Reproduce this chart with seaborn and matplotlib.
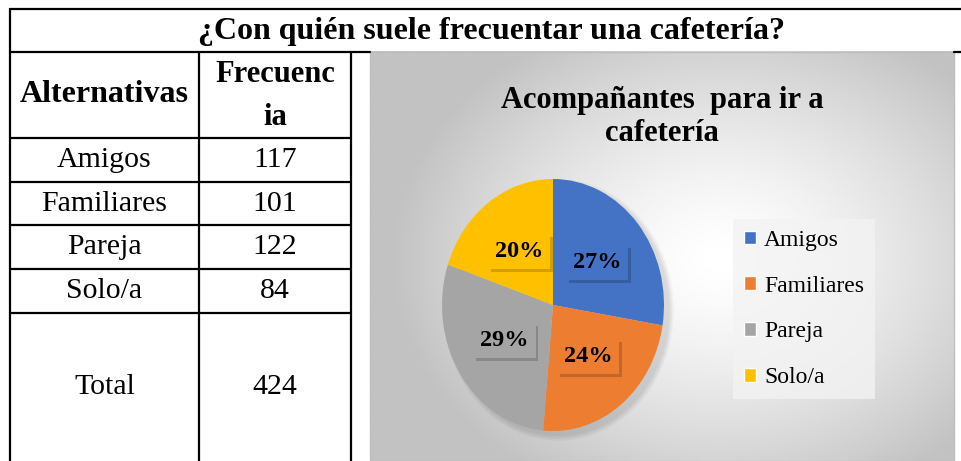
import numpy as np
import matplotlib.pyplot as plt
import matplotlib.patheffects as pe
from matplotlib.patches import Patch, Rectangle, Ellipse
import seaborn as sns

sns.set_style('white')
plt.rcParams['font.family'] = ['Liberation Serif', 'DejaVu Serif']
plt.rcParams['text.color'] = 'black'

# datos de la tabla
alternativas = ['Amigos', 'Familiares', 'Pareja', 'Solo/a']
frecuencia = [117, 101, 122, 84]
total = 424
pct_labels = ['27%', '24%', '29%', '20%']
titulo = '¿Con quién suele frecuentar una cafetería?'
titulo_grafico = ['Acompañantes  para ir a', 'cafetería']
colores = sns.color_palette(['#4472C4', '#ED7D31', '#A5A5A5', '#FFC000'])

W, H = 962, 461
fig = plt.figure(figsize=(W / 100, H / 100), dpi=100)
ax = fig.add_axes([0, 0, 1, 1])

# fondo del grafico (degradado radial)
cx0, cx1, cy0, cy1 = 370, 954, 52, 461
xx, yy = np.meshgrid(np.linspace(cx0, cx1, 300), np.linspace(cy0, cy1, 220))
d = np.hypot((xx - 720) / 330, (yy - 260) / 260)
shade = 1 - 0.24 * np.clip(d, 0, 1) ** 1.4
ax.imshow(shade, cmap='gray', vmin=0, vmax=1, extent=[cx0, cx1, cy1, cy0],
          interpolation='bilinear', zorder=0)
ax.add_patch(Rectangle((cx0, cy0), cx1 - cx0, cy1 - cy0, fill=False,
                       edgecolor='#bdbdbd', lw=1, zorder=1))
ax.set_aspect('auto')
ax.set_xlim(0, W)
ax.set_ylim(H, 0)
ax.axis('off')

# lineas de la tabla
lw = 1.6
ax.plot([10, W], [9, 9], color='black', lw=lw)
ax.plot([10, cx0], [52, 52], color='black', lw=lw)
ax.plot([cx1, W], [52, 52], color='black', lw=lw)
ax.plot([10, 10], [9, H], color='black', lw=lw)
ax.plot([199, 199], [52, H], color='black', lw=lw)
ax.plot([351, 351], [52, H], color='black', lw=lw)
row_lines = [138, 182, 225, 269, 313]
for y in row_lines:
    ax.plot([10, 351], [y, y], color='black', lw=lw)

ax.text(492, 31, titulo, ha='center', va='center', fontsize=23, fontweight='bold')
ax.text(104.5, 95, 'Alternativas', ha='center', va='center', fontsize=23, fontweight='bold')
ax.text(275, 75, 'Frecuenc', ha='center', va='center', fontsize=22, fontweight='bold')
ax.text(275, 117, 'ia', ha='center', va='center', fontsize=22, fontweight='bold')

for i, (alt, f) in enumerate(zip(alternativas, frecuencia)):
    yc = (row_lines[i] + row_lines[i + 1]) / 2
    ax.text(104.5, yc, alt, ha='center', va='center', fontsize=21.5)
    ax.text(275, yc, str(f), ha='center', va='center', fontsize=21.5)
ax.text(104.5, 387, 'Total', ha='center', va='center', fontsize=21.5)
ax.text(275, 387, str(total), ha='center', va='center', fontsize=21.5)

# titulo del grafico
ax.text(662, 100, titulo_grafico[0], ha='center', va='center', fontsize=22, fontweight='bold')
ax.text(662, 133, titulo_grafico[1], ha='center', va='center', fontsize=22, fontweight='bold')

# pastel
pcx, pcy, rx, ry = 553, 305, 111, 126
pax = fig.add_axes([(pcx - rx) / W, (H - pcy - ry) / H, 2 * rx / W, 2 * ry / H])
# sombra suave del pastel
for k in range(4):
    pax.add_patch(Ellipse((0.05, -0.04), 2 + 0.025 * k, 2 + 0.025 * k, facecolor='black',
                          alpha=0.03, edgecolor='none', clip_on=False))
wedges, _, autotexts = pax.pie(frecuencia, colors=colores, startangle=90, counterclock=False,
                               autopct=lambda p: '', pctdistance=0.52,
                               wedgeprops=dict(linewidth=0))
pax.set_aspect('auto')
pax.set_xlim(-1, 1)
pax.set_ylim(-1, 1)
pax.axis('off')
for t, lab, c in zip(autotexts, pct_labels, colores):
    t.set_text(lab)
    t.set_fontsize(17.5)
    t.set_fontweight('bold')
    t.set_bbox(dict(boxstyle='square,pad=0.28', facecolor=c, edgecolor='none'))
    t.get_bbox_patch().set_path_effects([pe.SimplePatchShadow(offset=(2, -2), alpha=0.25), pe.Normal()])

# leyenda
handles = [Patch(facecolor=c, label=a) for c, a in zip(colores, alternativas)]
leg = ax.legend(handles=handles, loc='center', bbox_to_anchor=(804 / W, 1 - 309 / H),
                bbox_transform=fig.transFigure, fontsize=17, handlelength=0.5,
                handleheight=0.5, handletextpad=0.35, labelspacing=1.05,
                frameon=True, fancybox=False, borderpad=0.45)
leg.get_frame().set_facecolor('#f3f3f3')
leg.get_frame().set_edgecolor('none')
leg.get_frame().set_alpha(0.8)

fig.savefig('out.png', dpi=100)
